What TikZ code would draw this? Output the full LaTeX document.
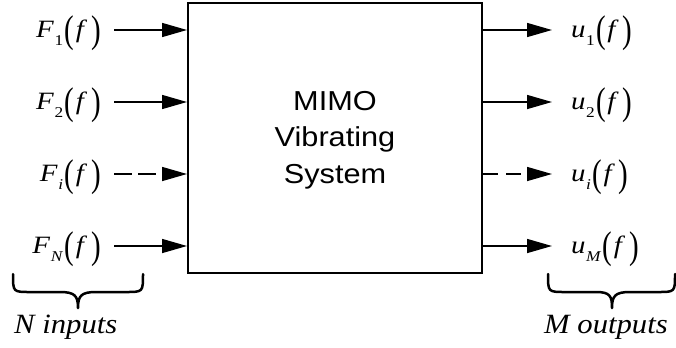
\documentclass[tikz,border=0pt]{standalone}
\usepackage{fontspec}
\setmainfont{Liberation Serif}
\newfontfamily\arialfont{Liberation Sans}
\usetikzlibrary{arrows.meta}
\newcommand{\bigpar}[1]{\raisebox{-5.5bp}{\scalebox{1}[1.55]{#1}}}
\newcommand{\sig}[2]{\scalebox{1.16}[1]{\textit{#1}\kern0.5bp\raisebox{-8bp}{\fontsize{15}{15}\selectfont #2}\kern1bp\bigpar{(}\kern1.5bp\textit{f}\kern3.5bp\bigpar{)}}}
\newcommand{\wide}[2]{\scalebox{#1}[1]{#2}}
\tikzset{
  sysbox/.style={draw, line width=2bp, minimum width=294bp, minimum height=270bp, inner sep=0pt},
  sig/.style={inner sep=0pt, font=\fontsize{25}{25}\selectfont},
  flow/.style={line width=1.5bp, -{Triangle[length=25bp, width=14bp]}},
  flowdash/.style={flow, dash pattern=on 18bp off 6bp},
  flowdashr/.style={flow, dash pattern=on 15bp off 8bp},
  bracestyle/.style={line width=2.5bp, line cap=round, line join=round},
  bracetext/.style={inner sep=0pt, font=\itshape\fontsize{28}{28}\selectfont},
  systext/.style={align=center, inner sep=0pt, font=\arialfont\fontsize{27.5}{36.5}\selectfont}
}
\begin{document}
\begin{tikzpicture}[x=1bp, y=-1bp]
\useasboundingbox (0,0) rectangle (676,347);
\node[sysbox] (sys) at (335,138) {};
\node[systext] (st) at (335,140) {\wide{1.12}{MIMO}\\\wide{1.12}{Vibrating}\\\wide{1.12}{System}};
% inputs
\node[sig, anchor=base east] (F1) at (101,37) {\sig{F}{1}};
\node[sig, anchor=base east] (F2) at (101,109) {\sig{F}{2}};
\node[sig, anchor=base east] (Fi) at (101,181) {\sig{F}{\textit{i}}};
\node[sig, anchor=base east] (FN) at (101,253) {\sig{F}{\textit{N}}};
\coordinate (a1) at (114,30);
\coordinate (a2) at (114,102);
\coordinate (a3) at (114,174);
\coordinate (a4) at (114,246);
\draw[flow] (a1) -- (a1 -| sys.west);
\draw[flow] (a2) -- (a2 -| sys.west);
\draw[flowdash] (a3) -- (a3 -| sys.west);
\draw[flow] (a4) -- (a4 -| sys.west);
% outputs
\coordinate (b1) at (552,30);
\coordinate (b2) at (552,102);
\coordinate (b3) at (552,174);
\coordinate (b4) at (552,246);
\draw[flow] (b1 -| sys.east) -- (b1);
\draw[flow] (b2 -| sys.east) -- (b2);
\draw[flowdashr] (b3 -| sys.east) -- (b3);
\draw[flow] (b4 -| sys.east) -- (b4);
\node[sig, anchor=base west] (u1) at (571,37) {\sig{u}{1}};
\node[sig, anchor=base west] (u2) at (571,109) {\sig{u}{2}};
\node[sig, anchor=base west] (ui) at (571,181) {\sig{u}{\textit{i}}};
\node[sig, anchor=base west] (uM) at (571,253) {\sig{u}{\textit{M}}};
% braces
\draw[bracestyle] (13,274) .. controls (13,292) and (13,292) .. (30,292) -- (60,292)
  .. controls (75,292) and (78,296) .. (78,308)
  .. controls (78,296) and (81,292) .. (96,292) -- (126,292)
  .. controls (143,292) and (143,292) .. (143,274);
\draw[bracestyle] (548,274) .. controls (548,292) and (548,292) .. (565,292) -- (596,292)
  .. controls (610,292) and (612,296) .. (612,308)
  .. controls (612,296) and (615,292) .. (630,292) -- (658,292)
  .. controls (675,292) and (675,292) .. (675,274);
\node[bracetext, anchor=base west] (nin) at (14,333) {\wide{1.1}{N inputs}};
\node[bracetext, anchor=base west] (mout) at (544,333) {\wide{1.1}{M outputs}};
\end{tikzpicture}
\end{document}
